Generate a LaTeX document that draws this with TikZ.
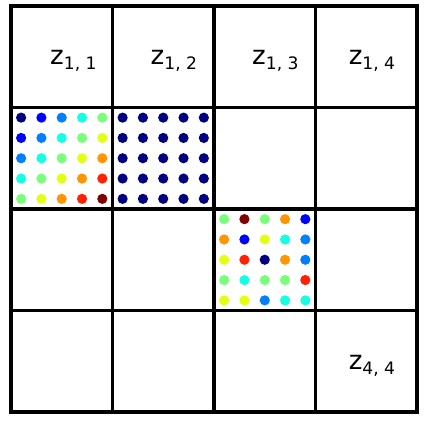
\documentclass[tikz,border=0pt]{standalone}
\usepackage{fontspec}
\setmainfont{DejaVu Sans}
\usepackage{tikz}
\usetikzlibrary{positioning}
% jet colour levels
\definecolor{jet0}{rgb}{0,0,0.5}
\definecolor{jet1}{rgb}{0,0,1}
\definecolor{jet2}{rgb}{0,0.5,1}
\definecolor{jet3}{rgb}{0.08,1,0.89}
\definecolor{jet4}{rgb}{0.48,1,0.48}
\definecolor{jet5}{rgb}{0.89,1,0.08}
\definecolor{jet6}{rgb}{1,0.59,0}
\definecolor{jet7}{rgb}{1,0.13,0}
\definecolor{jet8}{rgb}{0.5,0,0}
\newcommand{\zlab}[2]{{\fontsize{18.5}{22}\selectfont z}\raisebox{-3.5pt}{\fontsize{12.2}{14}\selectfont #1, #2}}

\begin{document}
\begin{tikzpicture}[x=2.5375cm,y=2.5375cm,
    gridline/.style={line width=2.6pt, black},
    dot/.style={circle, inner sep=0pt, minimum size=0.255cm},
    zlabel/.style={anchor=base west, inner sep=0pt}]
  \useasboundingbox (-0.108,-0.118) rectangle (4.069,4.059);
  % Cell labels
  \node[zlabel] (z11) at (0.384,3.42) {\zlab{1}{1}};
  \node[zlabel] (z12) at (1.374,3.42) {\zlab{1}{2}};
  \node[zlabel] (z13) at (2.374,3.42) {\zlab{1}{3}};
  \node[zlabel] (z14) at (3.325,3.42) {\zlab{1}{4}};
  \node[zlabel] (z44) at (3.325,0.42) {\zlab{4}{4}};
  % Block (2,1): colour grows along anti-diagonals
  \foreach \i in {1,...,5}
    \foreach \j in {1,...,5} {
      \pgfmathtruncatemacro{\lev}{\i+\j-2}
      \node[dot, fill=jet\lev] at ({(2*\i-1)/10},{3-(2*\j-1)/10}) {};
    }
  % Block (2,2): constant
  \foreach \i in {1,...,5}
    \foreach \j in {1,...,5}
      \node[dot, fill=jet0] at ({1+(2*\i-1)/10},{3-(2*\j-1)/10}) {};
  % Block (3,3): scattered levels, row by row
  \foreach \row [count=\j] in {{4,8,4,6,1},{6,1,5,3,2},{5,7,0,6,2},{4,3,4,4,7},{5,5,2,3,3}}
    \foreach \lev [count=\i] in \row
      \node[dot, fill=jet\lev] at ({2+(2*\i-1)/10},{2-(2*\j-1)/10}) {};
  % Grid
  \foreach \k in {0,...,4} {
    \draw[gridline] (\k,0) -- (\k,4);
    \draw[gridline] (0,\k) -- (4,\k);
  }
  \draw[gridline] (0,0) rectangle (4,4);
\end{tikzpicture}
\end{document}
